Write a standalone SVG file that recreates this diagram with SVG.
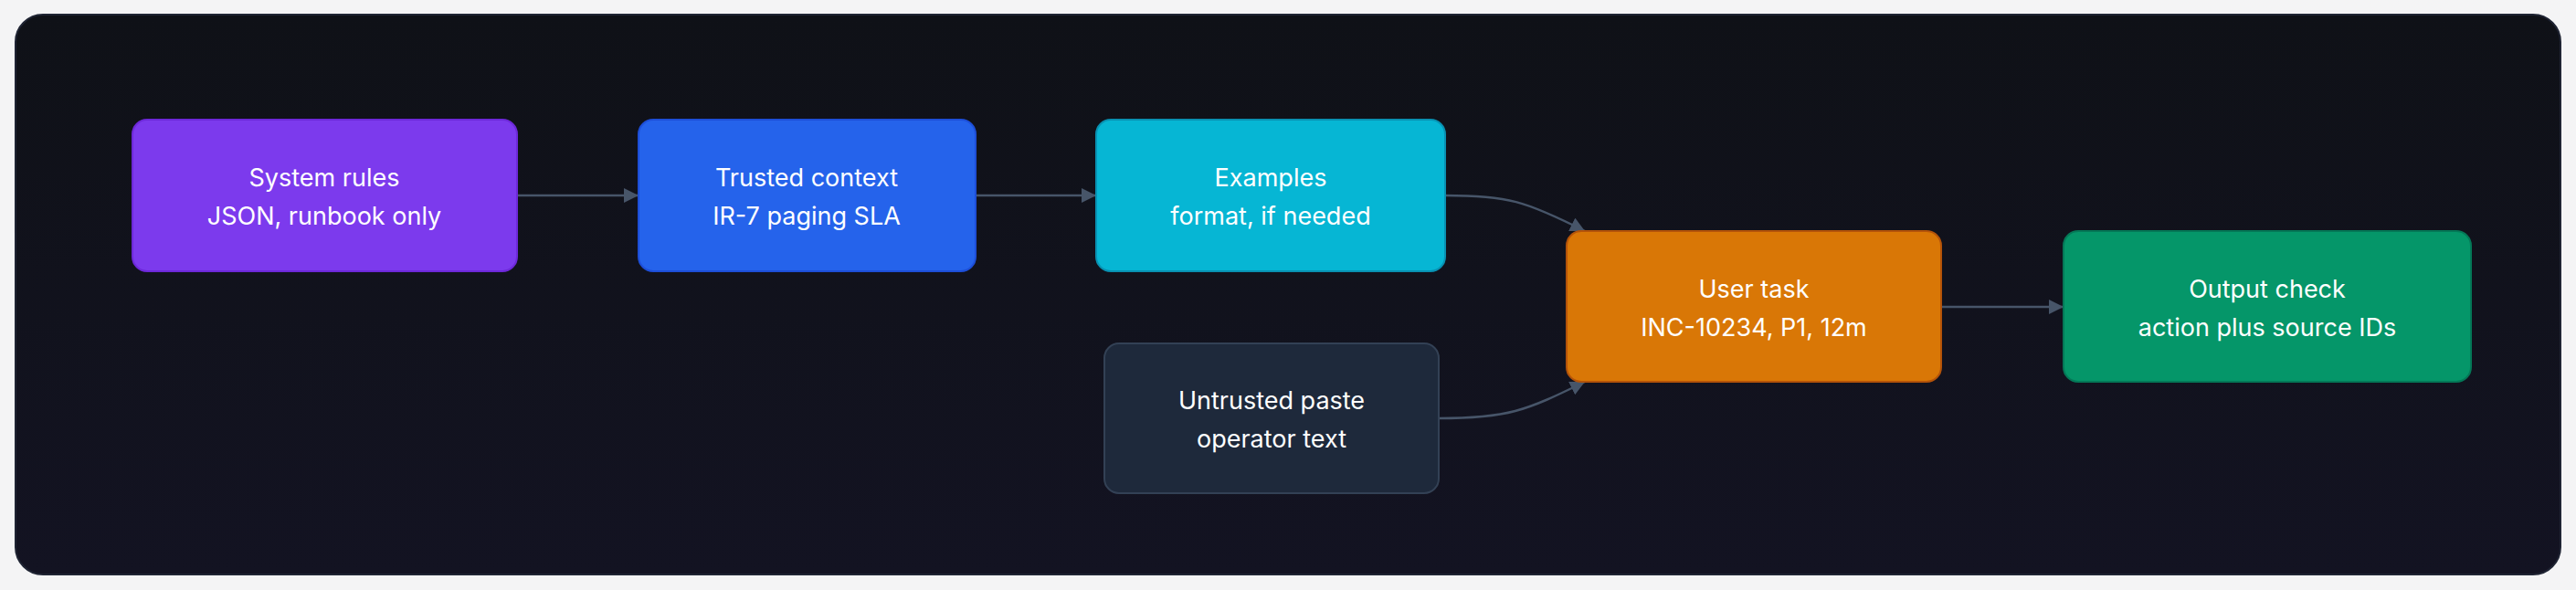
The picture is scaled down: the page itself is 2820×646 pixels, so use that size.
<svg xmlns="http://www.w3.org/2000/svg" width="2820" height="646" viewBox="0 0 2820 646">
<style>
.n rect{stroke-width:2}
.t{font-family:Inter,"Liberation Sans",sans-serif;font-size:27px;fill:#ffffff;text-anchor:middle}
.c{fill:none;stroke:#475569;stroke-width:2.5}
</style>
<defs>
<marker id="a" viewBox="0 0 10 10" refX="10" refY="5" markerWidth="7" markerHeight="7" markerUnits="userSpaceOnUse" orient="auto"><path d="M0,0L10,5L0,10z" fill="#475569"/></marker>
<marker id="m" viewBox="0 0 10 10" refX="10" refY="5" markerWidth="16" markerHeight="16" markerUnits="userSpaceOnUse" orient="auto"><path d="M0,0L10,5L0,10z" fill="#475569"/></marker>
<linearGradient id="bg" x1="0" y1="0" x2="0" y2="1"><stop offset="0" stop-color="#0f1117"/><stop offset="1" stop-color="#131322"/></linearGradient>
</defs>
<rect width="2820" height="646" fill="#f4f4f5"/>
<rect x="17" y="16" width="2786" height="613" rx="30" fill="url(#bg)" stroke="#1f2433" stroke-width="2"/>
<g id="connectors">
<path class="c" d="M566,214H699" marker-end="url(#m)"/>
<path class="c" d="M1068,214H1200" marker-end="url(#m)"/>
<path class="c" d="M1582,214C1650,214 1670,220 1735,253" marker-end="url(#m)"/>
<path class="c" d="M1575,458C1650,458 1670,450 1735,418" marker-end="url(#m)"/>
<path class="c" d="M2125,336H2259" marker-end="url(#m)"/>
</g>
<g id="system" class="n"><rect x="145" y="131" width="421" height="166" rx="16" fill="#7c3aed" stroke="#6d28d9"/><text class="t" x="355" y="204">System rules</text><text class="t" x="355" y="246">JSON, runbook only</text></g>
<g id="trusted" class="n"><rect x="699" y="131" width="369" height="166" rx="16" fill="#2563eb" stroke="#1d4ed8"/><text class="t" x="883" y="204">Trusted context</text><text class="t" x="883" y="246">IR-7 paging SLA</text></g>
<g id="examples" class="n"><rect x="1200" y="131" width="382" height="166" rx="16" fill="#06b6d4" stroke="#0891b2"/><text class="t" x="1391" y="204">Examples</text><text class="t" x="1391" y="246">format, if needed</text></g>
<g id="untrusted" class="n"><rect x="1209" y="376" width="366" height="164" rx="16" fill="#1e293b" stroke="#334155"/><text class="t" x="1392" y="448">Untrusted paste</text><text class="t" x="1392" y="490">operator text</text></g>
<g id="user" class="n"><rect x="1715" y="253" width="410" height="165" rx="16" fill="#d97706" stroke="#b45309"/><text class="t" x="1920" y="326">User task</text><text class="t" x="1920" y="368">INC-10234, P1, 12m</text></g>
<g id="output" class="n"><rect x="2259" y="253" width="446" height="165" rx="16" fill="#059669" stroke="#047857"/><text class="t" x="2482" y="326">Output check</text><text class="t" x="2482" y="368">action plus source IDs</text></g>
</svg>
